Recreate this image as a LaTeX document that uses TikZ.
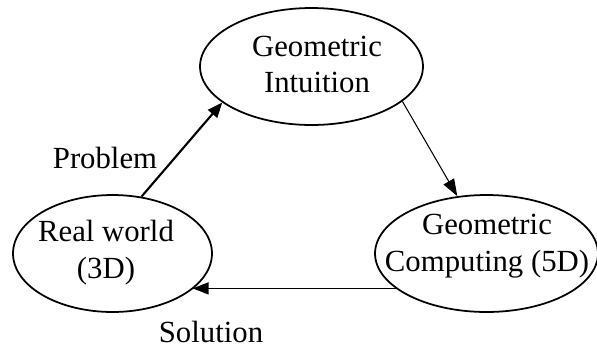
\documentclass[tikz,border=0pt]{standalone}
\usepackage{fontspec}
\setmainfont{Liberation Serif}
\usetikzlibrary{arrows.meta,shapes.geometric}
\tikzset{
  oval/.style={draw, ellipse, line width=1pt, inner sep=0pt, minimum height=2.34cm},
  ovaltext/.style={align=center, font=\fontsize{17.5}{21}\selectfont, inner sep=0pt},
  flowlabel/.style={font=\fontsize{17.5}{21}\selectfont, inner sep=0pt, anchor=base},
  % one arrow style per line weight
  flowthick/.style={-{Triangle[length=3.0mm,width=2.4mm]}, line width=1.2pt},
  flowmid/.style={-{Triangle[length=3.2mm,width=2.4mm]}, line width=0.95pt},
  flowthin/.style={-{Triangle[length=3.4mm,width=2.4mm]}, line width=0.6pt},
}

\begin{document}
\begin{tikzpicture}[x=0.02cm, y=-0.02cm]
  \useasboundingbox (0,0) rectangle (597,349);

  % --- the three ellipses ------------------------------------------------------
  \node[oval, minimum width=4.46cm] (intuition) at (311.5, 66.5)  {};
  \node[oval, minimum width=3.98cm] (realworld) at (112.5, 253.5) {};
  \node[oval, minimum width=4.46cm] (computing) at (486.5, 253.5) {};

  \node[ovaltext] (intuitiontxt) at (317, 64.5)  {Geometric\\Intuition};
  \node[ovaltext] (realworldtxt) at (106, 252.5) {Real world\\(3D)};
  \node[ovaltext] (computingtxt) at (487, 246.5) {Geometric\\Computing (5D)};

  % --- connectors --------------------------------------------------------------
  \draw[flowthick] (realworld.63) -- (intuition.202);
  \draw[flowthin]  (intuition.339) -- (computing.117);
  \draw[flowmid]   (computing.201) -- (computing.201 -| realworld.336);

  \node[flowlabel] (problem)  at (105, 168) {Problem};
  \node[flowlabel] (solution) at (211, 342) {Solution};

\end{tikzpicture}
\end{document}
